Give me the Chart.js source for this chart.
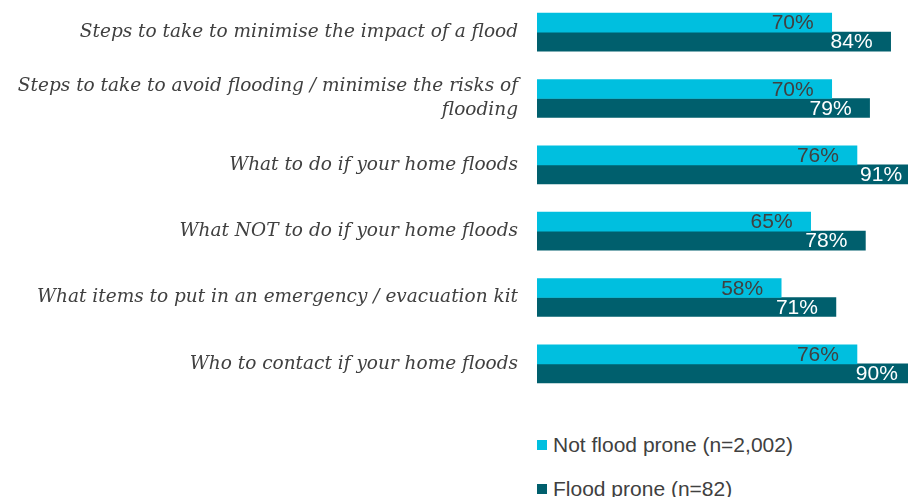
<!DOCTYPE html>
<html>
<head>
<meta charset="utf-8">
<script src="https://cdn.jsdelivr.net/npm/chart.js@4.4.1/dist/chart.umd.min.js"></script>
<style>
  html, body { margin: 0; padding: 0; background: #fff; overflow: hidden; width: 908px; height: 497px; }
  #wrap { position: relative; width: 908px; height: 497px; overflow: hidden; }
  #myChart { position: absolute; left: 0; top: -1px; }
  #legend { position: absolute; left: 537px; top: 432px; font: 21px "Liberation Sans", Arial, sans-serif; color: #404040; }
  .leg-item { display: flex; align-items: center; height: 25px; margin-bottom: 19.5px; white-space: nowrap; }
  .leg-box { width: 10px; height: 10px; margin-right: 6px; }
</style>
</head>
<body>
<div id="wrap">
  <canvas id="myChart" width="958" height="398"></canvas>
  <div id="legend"></div>
</div>
<script>
// topics people want information on
const categories = [
  'Steps to take to minimise the impact of a flood',
  ['Steps to take to avoid flooding / minimise the risks of', 'flooding'],
  'What to do if your home floods',
  'What NOT to do if your home floods',
  'What items to put in an emergency / evacuation kit',
  'Who to contact if your home floods'
];
const seriesNames = ['Not flood prone (n=2,002)', 'Flood prone (n=82)'];
const notFloodProne = [70, 70, 76, 65, 58, 76];
const floodProne = [84, 79, 91, 78, 71, 90];

const barColors = ['#00BFDF', '#005F6D'];
const valueColors = ['#404040', '#ffffff'];

// percent labels drawn just inside the end of each bar
const valueLabels = {
  id: 'valueLabels',
  afterDatasetsDraw(chart) {
    const c = chart.ctx;
    c.save();
    c.font = '21px "Liberation Sans", Arial, sans-serif';
    c.textAlign = 'right';
    c.textBaseline = 'middle';
    chart.data.datasets.forEach((ds, i) => {
      const meta = chart.getDatasetMeta(i);
      c.fillStyle = valueColors[i];
      meta.data.forEach((bar, j) => {
        c.fillText(ds.data[j] + '%', bar.x - 18, bar.y + 1);
      });
    });
    c.restore();
  }
};

const ctx = document.getElementById('myChart').getContext('2d');
const chart = new Chart(ctx, {
  type: 'bar',
  data: {
    labels: categories,
    datasets: [
      { label: seriesNames[0], data: notFloodProne, backgroundColor: barColors[0], barThickness: 19 },
      { label: seriesNames[1], data: floodProne, backgroundColor: barColors[1], barThickness: 19 }
    ]
  },
  options: {
    indexAxis: 'y',
    responsive: false,
    animation: false,
    layout: { padding: 0 },
    plugins: {
      legend: { display: false },
      tooltip: { enabled: false }
    },
    scales: {
      x: {
        display: false,
        min: 0,
        max: 100
      },
      y: {
        grid: { display: false },
        border: { display: false },
        ticks: {
          color: '#404040',
          padding: 11,
          font: { family: '"DejaVu Serif", Georgia, serif', style: 'italic', size: 18.5, lineHeight: 1.3 }
        },
        afterFit(scale) {
          // fixed label column, no extra space above/below the bars
          scale.width = 537;
          scale.paddingTop = 0;
          scale.paddingBottom = 0;
        }
      }
    }
  },
  plugins: [valueLabels]
});

// legend built from the chart's datasets
const legendDiv = document.getElementById('legend');
chart.data.datasets.forEach(ds => {
  const item = document.createElement('div');
  item.className = 'leg-item';
  const box = document.createElement('span');
  box.className = 'leg-box';
  box.style.background = ds.backgroundColor;
  const txt = document.createElement('span');
  txt.textContent = ds.label;
  item.appendChild(box);
  item.appendChild(txt);
  legendDiv.appendChild(item);
});
</script>
</body>
</html>
